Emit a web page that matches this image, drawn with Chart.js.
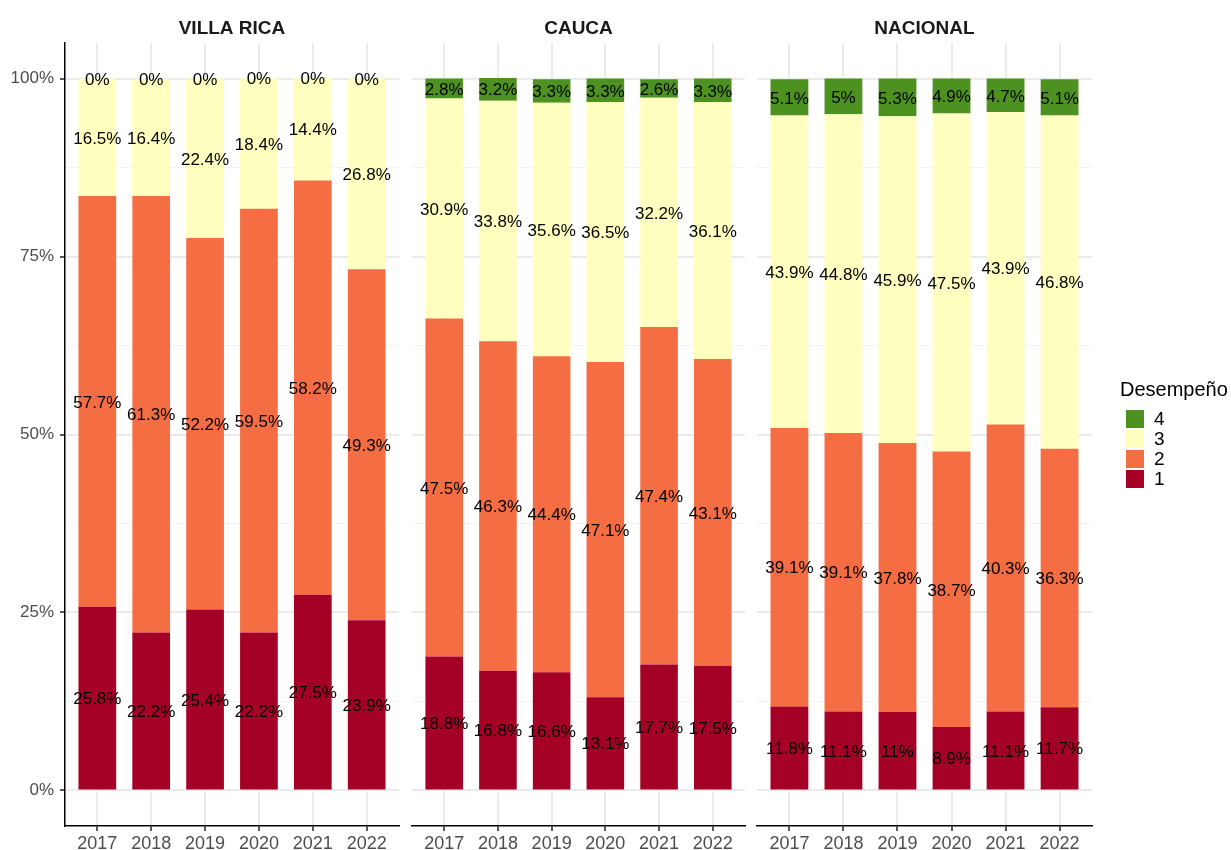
<!DOCTYPE html>
<html>
<head>
<meta charset="utf-8">
<script src="https://cdn.jsdelivr.net/npm/chart.js@4.4.1/dist/chart.umd.min.js"></script>
<style>
  body { margin: 0; background: #fff; }
  #wrap { position: relative; width: 1231px; height: 850px; overflow: hidden; font-family: "Liberation Sans", Arial, sans-serif; }
  #wrap canvas { position: absolute; left: 0; top: 0; }
  #legend { position: absolute; left: 0; top: 0; }
  .ltitle { position: absolute; left: 1120px; top: 377px; font-size: 20px; line-height: 24px; color: #000; white-space: nowrap; }
  .lkey { position: absolute; left: 1126px; width: 18px; height: 18px; }
  .llab { position: absolute; left: 1154px; font-size: 19px; line-height: 18px; color: #000; }
</style>
</head>
<body>
<div id="wrap">
  <canvas id="p1" width="1231" height="850"></canvas>
  <canvas id="p2" width="1231" height="850"></canvas>
  <canvas id="p3" width="1231" height="850"></canvas>
  <div id="legend"></div>
</div>
<script>
// datos
const years = [2017, 2018, 2019, 2020, 2021, 2022];
const niveles = ['1', '2', '3', '4'];
const colores = ['#a50026', '#f46d43', '#ffffbf', '#4d9221'];
const yTicks = [0, 12.5, 25, 37.5, 50, 62.5, 75, 87.5, 100];

const villaRica1 = [25.8, 22.2, 25.4, 22.2, 27.5, 23.9];
const villaRica2 = [57.7, 61.3, 52.2, 59.5, 58.2, 49.3];
const villaRica3 = [16.5, 16.4, 22.4, 18.4, 14.4, 26.8];
const villaRica4 = [0, 0, 0, 0, 0, 0];

const cauca1 = [18.8, 16.8, 16.6, 13.1, 17.7, 17.5];
const cauca2 = [47.5, 46.3, 44.4, 47.1, 47.4, 43.1];
const cauca3 = [30.9, 33.8, 35.6, 36.5, 32.2, 36.1];
const cauca4 = [2.8, 3.2, 3.3, 3.3, 2.6, 3.3];

const nacional1 = [11.8, 11.1, 11, 8.9, 11.1, 11.7];
const nacional2 = [39.1, 39.1, 37.8, 38.7, 40.3, 36.3];
const nacional3 = [43.9, 44.8, 45.9, 47.5, 43.9, 46.8];
const nacional4 = [5.1, 5, 5.3, 4.9, 4.7, 5.1];

const FONT = '"Liberation Sans", Arial, sans-serif';

// titulo de cada panel, centrado sobre el area del grafico
const panelTitle = {
    id: 'panelTitle',
    afterDraw(chart, args, opts) {
        const { ctx, chartArea } = chart;
        ctx.save();
        ctx.font = 'bold 19px ' + FONT;
        ctx.fillStyle = '#1a1a1a';
        ctx.textAlign = 'center';
        ctx.textBaseline = 'middle';
        ctx.fillText(opts.text, (chartArea.left + chartArea.right) / 2, 28.5);
        ctx.restore();
    }
};

// etiquetas en el centro de cada segmento
const segLabels = {
    id: 'segLabels',
    afterDatasetsDraw(chart) {
        const ctx = chart.ctx;
        ctx.save();
        ctx.font = '17px ' + FONT;
        ctx.fillStyle = '#000';
        ctx.textAlign = 'center';
        ctx.textBaseline = 'middle';
        chart.data.datasets.forEach((ds, i) => {
            chart.getDatasetMeta(i).data.forEach((bar, j) => {
                ctx.fillText(ds.data[j] + '%', bar.x, (bar.y + bar.base) / 2 + 1.5);
            });
        });
        ctx.restore();
    }
};

const isMajor = v => v % 25 === 0;

function makePanel(id, title, series, padLeft, padRight, showY) {
    new Chart(document.getElementById(id), {
        type: 'bar',
        data: {
            labels: years,
            datasets: series.map((d, i) => ({
                label: niveles[i],
                data: d,
                backgroundColor: colores[i],
                borderWidth: 0,
                barPercentage: 0.7,
                categoryPercentage: 1
            }))
        },
        options: {
            responsive: false,
            animation: false,
            layout: { padding: { left: padLeft, right: padRight, top: 43, bottom: 0 } },
            plugins: {
                legend: { display: false },
                tooltip: { enabled: false },
                panelTitle: { text: title }
            },
            scales: {
                x: {
                    type: 'linear',
                    stacked: true,
                    min: 2016.4,
                    max: 2022.6,
                    offset: false,
                    afterBuildTicks: s => { s.ticks = years.map(v => ({ value: v })); },
                    afterFit: s => { s.height = 24; },
                    grid: { offset: false, color: '#ebebeb', lineWidth: 2, tickColor: '#222', tickLength: 5, tickWidth: 1.5 },
                    border: { display: true, color: '#000', width: 1.5 },
                    ticks: { color: '#4d4d4d', font: { size: 18, family: FONT }, padding: 2, maxRotation: 0, callback: v => String(v) }
                },
                y: {
                    stacked: true,
                    min: -5,
                    max: 105,
                    afterBuildTicks: s => { s.ticks = yTicks.map(v => ({ value: v })); },
                    afterFit: s => { s.width = showY ? 65 : 0; },
                    grid: {
                        color: c => isMajor(c.tick.value) ? '#ebebeb' : '#f3f3f3',
                        lineWidth: c => isMajor(c.tick.value) ? 2 : 1,
                        drawTicks: showY,
                        tickLength: 5,
                        tickWidth: 1.5,
                        tickColor: c => isMajor(c.tick.value) ? '#222' : 'rgba(0,0,0,0)'
                    },
                    border: { display: showY, color: '#000', width: 1.5 },
                    ticks: {
                        display: showY,
                        color: '#4d4d4d',
                        font: { size: 17, family: FONT },
                        padding: 6,
                        callback: v => isMajor(v) ? v + '%' : ''
                    }
                }
            }
        },
        plugins: [panelTitle, segLabels]
    });
}

makePanel('p1', 'VILLA RICA', [villaRica1, villaRica2, villaRica3, villaRica4], 0, 1231 - 399, true);
makePanel('p2', 'CAUCA', [cauca1, cauca2, cauca3, cauca4], 412, 1231 - 745, false);
makePanel('p3', 'NACIONAL', [nacional1, nacional2, nacional3, nacional4], 757, 1231 - 1092, false);

// leyenda
const legend = document.getElementById('legend');
let html = '<div class="ltitle">Desempeño</div>';
niveles.slice().reverse().forEach((n, k) => {
    const top = 410 + k * 20;
    const col = colores[niveles.indexOf(n)];
    html += '<div class="lkey" style="top:' + top + 'px;background:' + col + '"></div>';
    html += '<div class="llab" style="top:' + top + 'px">' + n + '</div>';
});
legend.innerHTML = html;
</script>
</body>
</html>
